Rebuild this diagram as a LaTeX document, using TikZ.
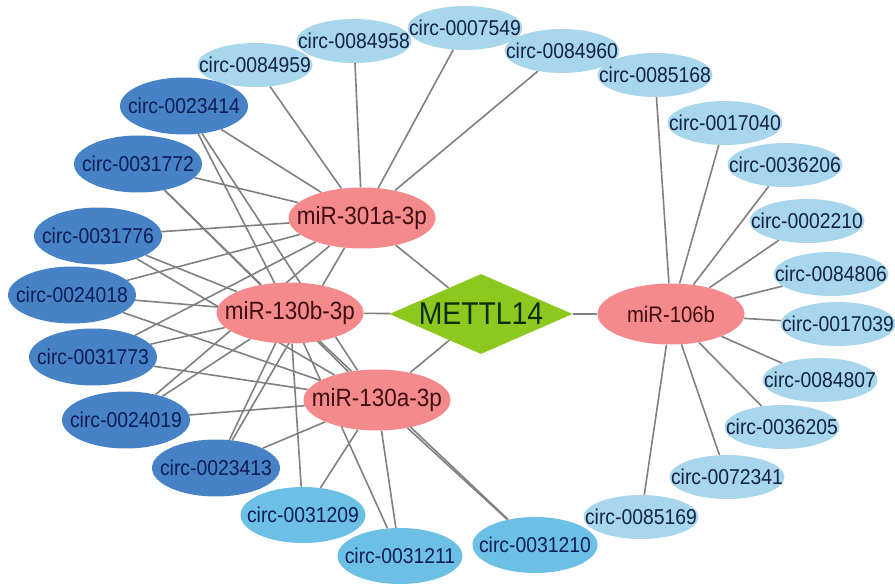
\documentclass[tikz,border=0pt]{standalone}
\usepackage{fontspec}
\setmainfont{Liberation Sans}[FakeStretch=0.9]
\usetikzlibrary{shapes.geometric,backgrounds}
\definecolor{circlt}{RGB}{167,214,237}
\definecolor{circmd}{RGB}{108,192,230}
\definecolor{circdk}{RGB}{72,130,198}
\definecolor{mirpink}{RGB}{245,138,140}
\definecolor{hubgreen}{RGB}{140,200,30}
\definecolor{linkgray}{RGB}{128,128,128}
\definecolor{navytxt}{RGB}{20,34,66}
\definecolor{deeptxt}{RGB}{14,28,86}
\definecolor{mirtxt}{RGB}{62,14,20}
\definecolor{hubtxt}{RGB}{14,44,14}
\begin{document}
\begin{tikzpicture}[x=1pt,y=-1pt]
	\tikzstyle{circbase}=[ellipse,inner xsep=-30pt,inner ysep=0pt,font=\fontsize{21.5}{24}\selectfont]
	\tikzstyle{circlight}=[circbase,fill=circlt,text=navytxt,minimum width=115pt,minimum height=44pt]
	\tikzstyle{circmid}=[circbase,fill=circmd,text=deeptxt,minimum width=125pt,minimum height=56pt]
	\tikzstyle{circdark}=[circbase,fill=circdk,text=deeptxt,minimum width=128pt,minimum height=57pt]
	\tikzstyle{mirna}=[ellipse,fill=mirpink,text=mirtxt,inner xsep=-30pt,inner ysep=0pt,minimum width=147pt,minimum height=61pt,font=\fontsize{25}{28}\selectfont]
	\tikzstyle{hub}=[diamond,fill=hubgreen,text=hubtxt,inner sep=0pt,aspect=2.3,minimum width=183pt,minimum height=80pt,font=\fontsize{31.5}{34}\selectfont]
	\tikzstyle{link}=[draw=linkgray,line width=1.6pt]
	\useasboundingbox (0,0) rectangle (895,588);
	% centre
	\node [hub] (mettl) at (481,314) {METTL14};
	\node [mirna] (m301) at (362,218) {miR-301a-3p};
	\node [mirna] (m130b) at (290,313) {miR-130b-3p};
	\node [mirna] (m130a) at (377,400) {miR-130a-3p};
	\node [mirna,font=\fontsize{22.5}{26}\selectfont] (m106) at (671,314) {miR-106b};
	% top
	\node [circlight] (c0084959) at (255,65) {circ-0084959};
	\node [circlight] (c0084958) at (354,41) {circ-0084958};
	\node [circlight] (c0007549) at (465,28) {circ-0007549};
	\node [circlight] (c0084960) at (562,51) {circ-0084960};
	% right
	\node [circlight] (c0085168) at (655,75) {circ-0085168};
	\node [circlight] (c0017040) at (725,123) {circ-0017040};
	\node [circlight] (c0036206) at (785,165) {circ-0036206};
	\node [circlight] (c0002210) at (807,221) {circ-0002210};
	\node [circlight] (c0084806) at (831,274) {circ-0084806};
	\node [circlight] (c0017039) at (838,324) {circ-0017039};
	\node [circlight] (c0084807) at (820,380) {circ-0084807};
	\node [circlight] (c0036205) at (782,427) {circ-0036205};
	\node [circlight] (c0072341) at (727,477) {circ-0072341};
	\node [circlight] (c0085169) at (641,517) {circ-0085169};
	% bottom
	\node [circmid] (c0031209) at (303,515) {circ-0031209};
	\node [circmid] (c0031211) at (400,556) {circ-0031211};
	\node [circmid] (c0031210) at (535,545) {circ-0031210};
	% left
	\node [circdark] (c0023414) at (184,106) {circ-0023414};
	\node [circdark] (c0031772) at (138,164) {circ-0031772};
	\node [circdark] (c0031776) at (98,236) {circ-0031776};
	\node [circdark] (c0024018) at (72,295) {circ-0024018};
	\node [circdark] (c0031773) at (93,357) {circ-0031773};
	\node [circdark] (c0024019) at (126,420) {circ-0024019};
	\node [circdark] (c0023413) at (216,468) {circ-0023413};
	\begin{scope}[on background layer]
		\path[link] (mettl) edge (m301) edge (m130b) edge (m130a) edge (m106);
		\path[link] (m106) edge (c0085168) edge (c0017040) edge (c0036206) edge (c0002210) edge (c0084806);
		\path[link] (m106) edge (c0017039) edge (c0084807) edge (c0036205) edge (c0072341) edge (c0085169);
		\path[link] (m301) edge (c0084959) edge (c0084958) edge (c0007549) edge (c0084960);
		\path[link] (m301) edge (c0023414) edge (c0031772) edge (c0031776) edge (c0024018);
		\path[link] (m301) edge (c0031773) edge (c0024019) edge (c0023413);
		\path[link] (m130b) edge (c0023414) edge (c0031772) edge (c0031776) edge (c0024018);
		\path[link] (m130b) edge (c0031773) edge (c0024019) edge (c0023413);
		\path[link] (m130b) edge (c0031209) edge (c0031211) edge (c0031210);
		\path[link] (m130a) edge (c0023414) edge (c0031772) edge (c0031776) edge (c0024018);
		\path[link] (m130a) edge (c0031773) edge (c0024019) edge (c0023413);
		\path[link] (m130a) edge (c0031209) edge (c0031211) edge (c0031210);
	\end{scope}
\end{tikzpicture}
\end{document}
